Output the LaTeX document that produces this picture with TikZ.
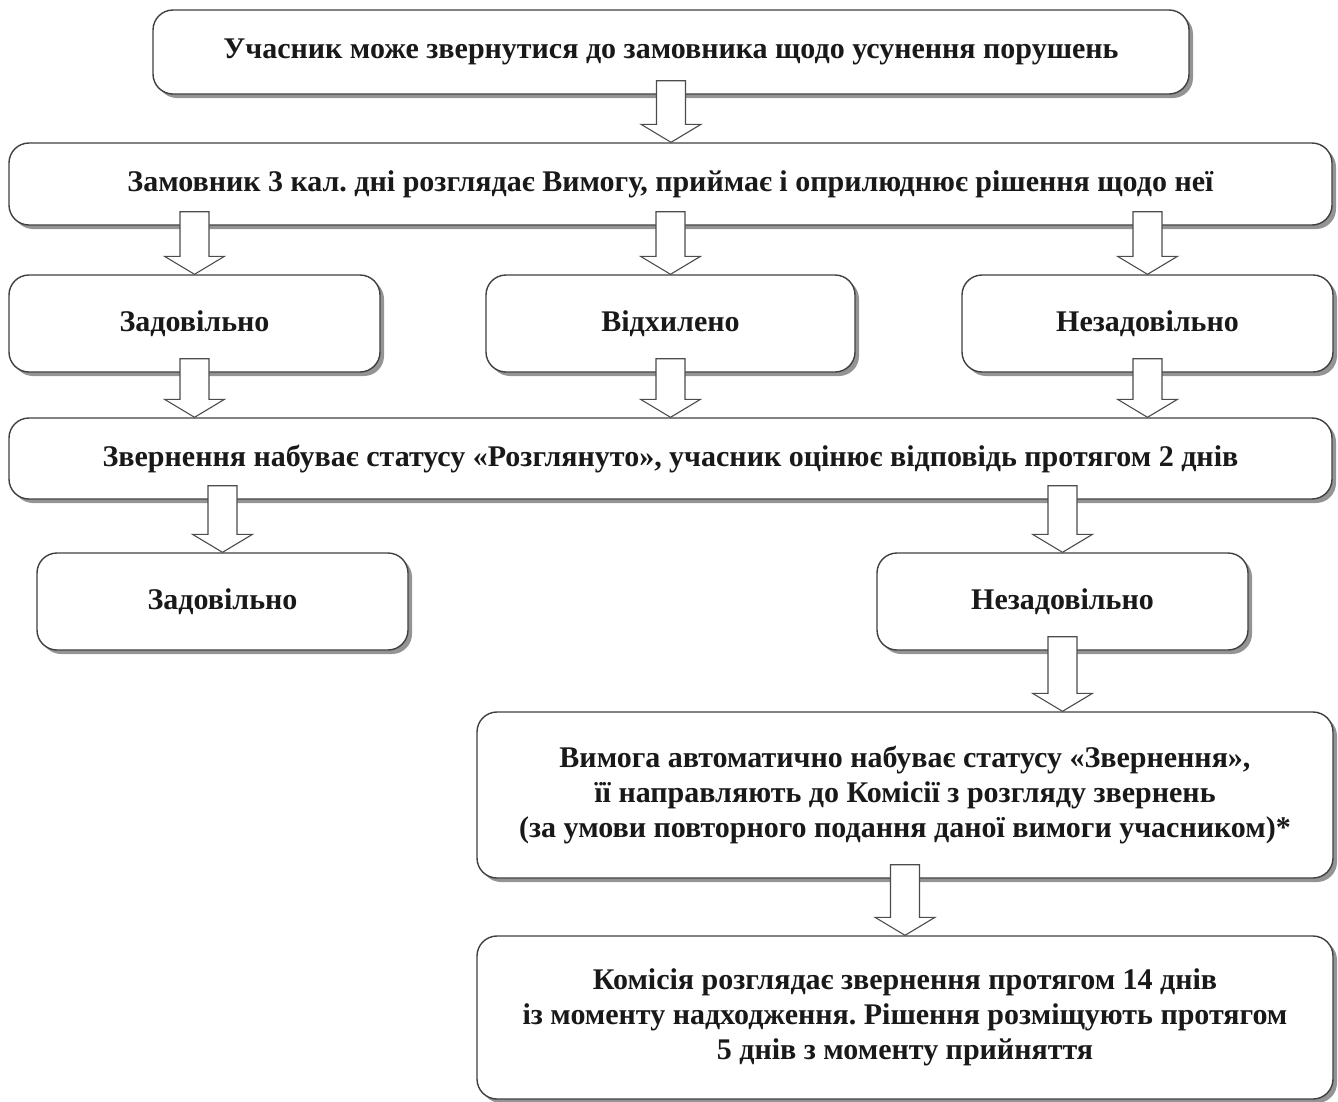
\documentclass[tikz,border=0pt]{standalone}
\usepackage{fontspec}
\setmainfont{Liberation Serif}
\usetikzlibrary{calc,shadows}
\frenchspacing
\tikzset{
  box/.style={draw=black!75, line width=1.4pt, rounded corners=20pt, fill=white,
    align=center, inner sep=0pt, font=\bfseries\fontsize{30}{35}\selectfont\frenchspacing, text=black!90,
    drop shadow={shadow xshift=4pt, shadow yshift=-4pt, fill=black!60, opacity=0.7}},
  barr/.style={draw=black!70, line width=1.1pt, fill=white, line join=miter}
}
\newcommand\barrow[3]{\draw[barr] let \p1=(#1.center), \p2=(#2.south), \p3=(#3.north) in
  (\x1-14.5pt,\y2+14pt) -- (\x1+14.5pt,\y2+14pt) -- (\x1+14.5pt,\y3+18pt) -- (\x1+30pt,\y3+18pt)
  -- (\x1,\y3) -- (\x1-30pt,\y3+18pt) -- (\x1-14.5pt,\y3+18pt) -- cycle;}
\begin{document}
\begin{tikzpicture}[x=1pt,y=-1pt]
\useasboundingbox (0,0) rectangle (1338,1101);
\node[box, minimum width=1036pt, minimum height=84pt] (b1) at (671,52)
  {Учасник може звернутися до замовника щодо усунення порушень};
\node[box, minimum width=1323pt, minimum height=82pt] (b2) at (670.5,184)
  {Замовник 3 кал. дні розглядає Вимогу, приймає і оприлюднює рішення щодо неї};
\node[box, minimum width=371pt, minimum height=97pt] (r1) at (194.5,323.5) {Задовільно};
\node[box, minimum width=369pt, minimum height=97pt] (r2) at (670.5,323.5) {Відхилено};
\node[box, minimum width=371pt, minimum height=97pt] (r3) at (1147.5,323.5) {Незадовільно};
\node[box, minimum width=1323pt, minimum height=81pt] (b4) at (670.5,458.5)
  {Звернення набуває статусу «Розглянуто», учасник оцінює відповідь протягом 2 днів};
\node[box, minimum width=371pt, minimum height=97pt] (s1) at (222.5,601.5) {Задовільно};
\node[box, minimum width=371pt, minimum height=97pt] (s2) at (1062.5,601.5) {Незадовільно};
\node[box, minimum width=856pt, minimum height=166pt] (b6) at (905,795)
  {Вимога автоматично набуває статусу «Звернення»,\\ її направляють до Комісії з розгляду звернень\\ (за умови повторного подання даної вимоги учасником)*};
\node[box, minimum width=856pt, minimum height=163pt] (b7) at (905,1017.5)
  {Комісія розглядає звернення протягом 14 днів\\ із моменту надходження. Рішення розміщують протягом\\ 5 днів з моменту прийняття};
\barrow{b1}{b1}{b2}
\barrow{r1}{b2}{r1}
\barrow{r2}{b2}{r2}
\barrow{r3}{b2}{r3}
\barrow{r1}{r1}{b4}
\barrow{r2}{r2}{b4}
\barrow{r3}{r3}{b4}
\barrow{s1}{b4}{s1}
\barrow{s2}{b4}{s2}
\barrow{s2}{s2}{b6}
\barrow{b6}{b6}{b7}
\end{tikzpicture}
\end{document}
